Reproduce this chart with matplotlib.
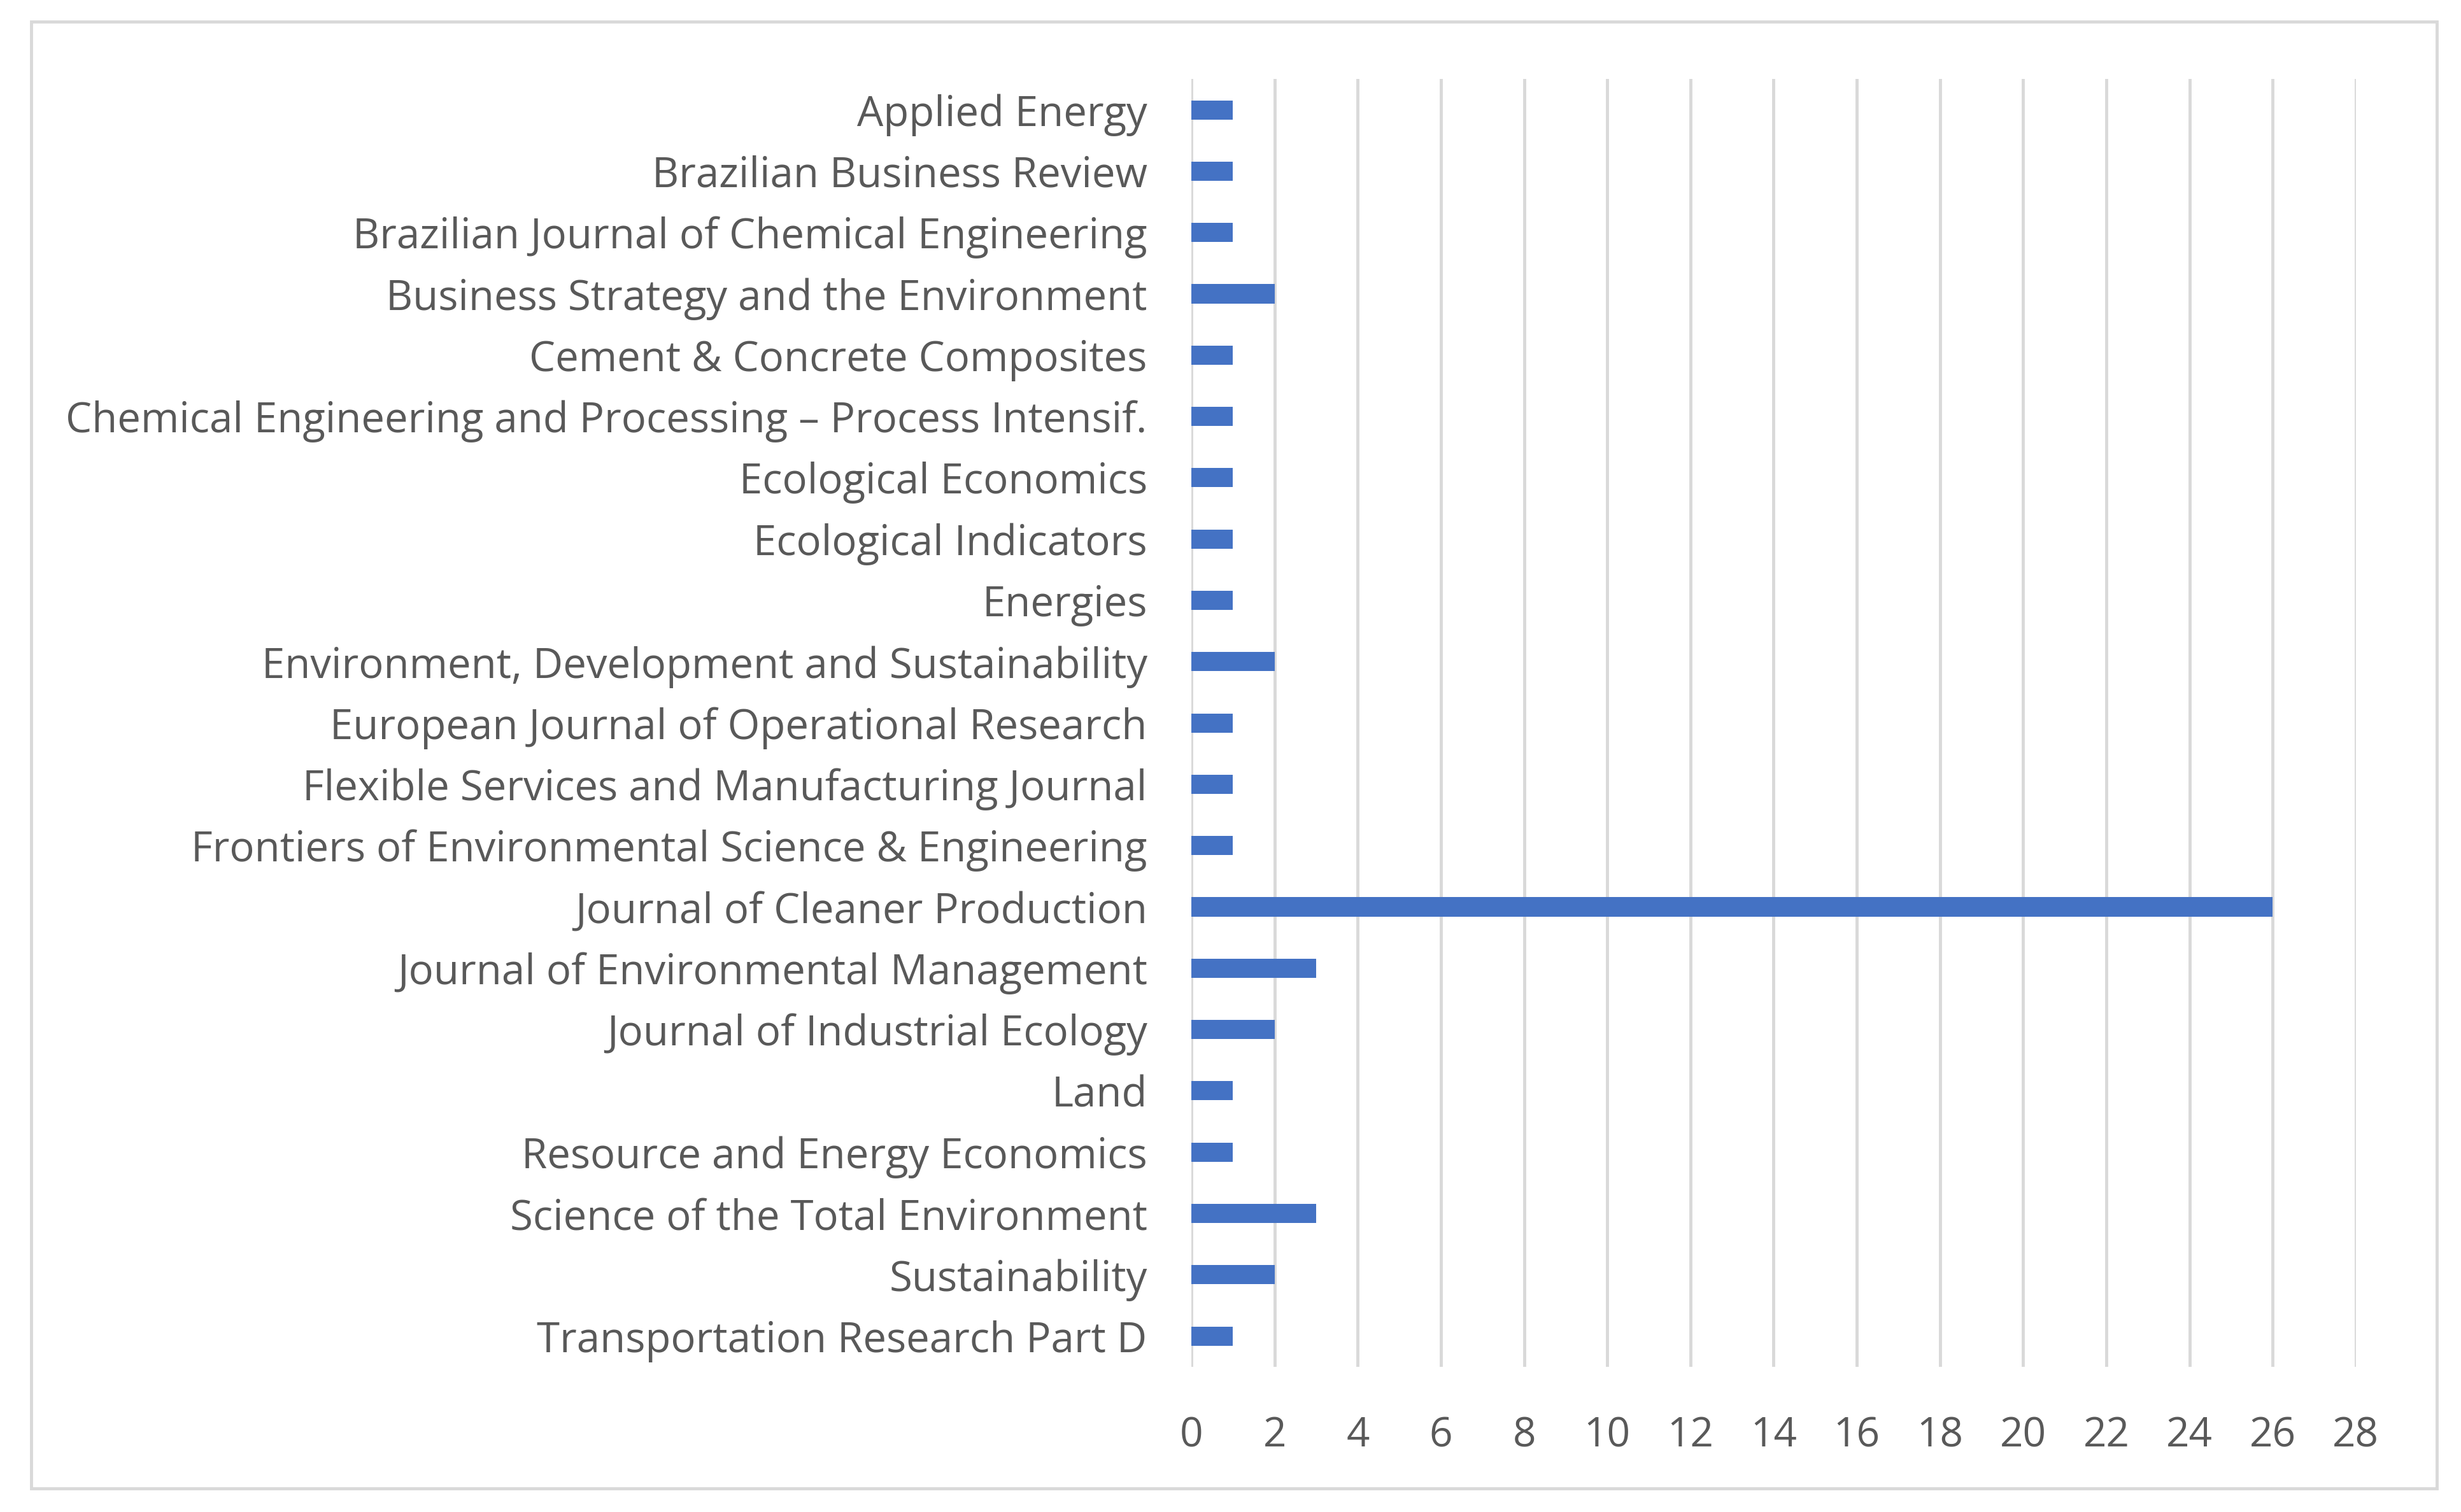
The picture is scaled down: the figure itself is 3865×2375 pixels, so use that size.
import matplotlib
matplotlib.use("Agg")
from matplotlib import pyplot as plt
from matplotlib.patches import Rectangle

# journals and number of papers
journals = [
    "Applied Energy",
    "Brazilian Business Review",
    "Brazilian Journal of Chemical Engineering",
    "Business Strategy and the Environment",
    "Cement & Concrete Composites",
    "Chemical Engineering and Processing \u2013 Process Intensif.",
    "Ecological Economics",
    "Ecological Indicators",
    "Energies",
    "Environment, Development and Sustainability",
    "European Journal of Operational Research",
    "Flexible Services and Manufacturing Journal",
    "Frontiers of Environmental Science & Engineering",
    "Journal of Cleaner Production",
    "Journal of Environmental Management",
    "Journal of Industrial Ecology",
    "Land",
    "Resource and Energy Economics",
    "Science of the Total Environment",
    "Sustainability",
    "Transportation Research Part D",
]
papers = [1, 1, 1, 2, 1, 1, 1, 1, 1, 2, 1, 1, 1, 26, 3, 2, 1, 1, 3, 2, 1]
xticks = list(range(0, 29, 2))

txt_col = "#595959"
grid_col = "#d9d9d9"
bar_col = "#4472c4"

plt.rcParams["font.family"] = ["Open Sans", "DejaVu Sans"]

fig = plt.figure(figsize=(38.66, 23.75), dpi=100)
ax = fig.add_axes([0.484, 0.0961, 0.473, 0.8515])

pos = list(range(len(journals)))[::-1]
ax.barh(pos, papers, height=0.313, color=bar_col, zorder=3)

ax.set_xlim(0, 28)
ax.set_ylim(-0.5, len(journals) - 0.5)
ax.set_xticks(xticks)
ax.set_xticklabels([str(t) for t in xticks])
ax.set_yticks(pos)
ax.set_yticklabels(journals)
ax.tick_params(axis="x", length=0, pad=55, labelsize=46, colors=txt_col)
ax.tick_params(axis="y", length=0, pad=50, labelsize=47, colors=txt_col)
ax.grid(axis="x", color=grid_col, linewidth=3.5, zorder=0)
for s in ax.spines.values():
    s.set_visible(False)

# outer chart border
fig.patches.append(Rectangle((0.0128, 0.0156), 0.977, 0.97, transform=fig.transFigure,
                             fill=False, edgecolor=grid_col, linewidth=3.5))

fig.savefig("out.png", dpi=100, facecolor="white")
